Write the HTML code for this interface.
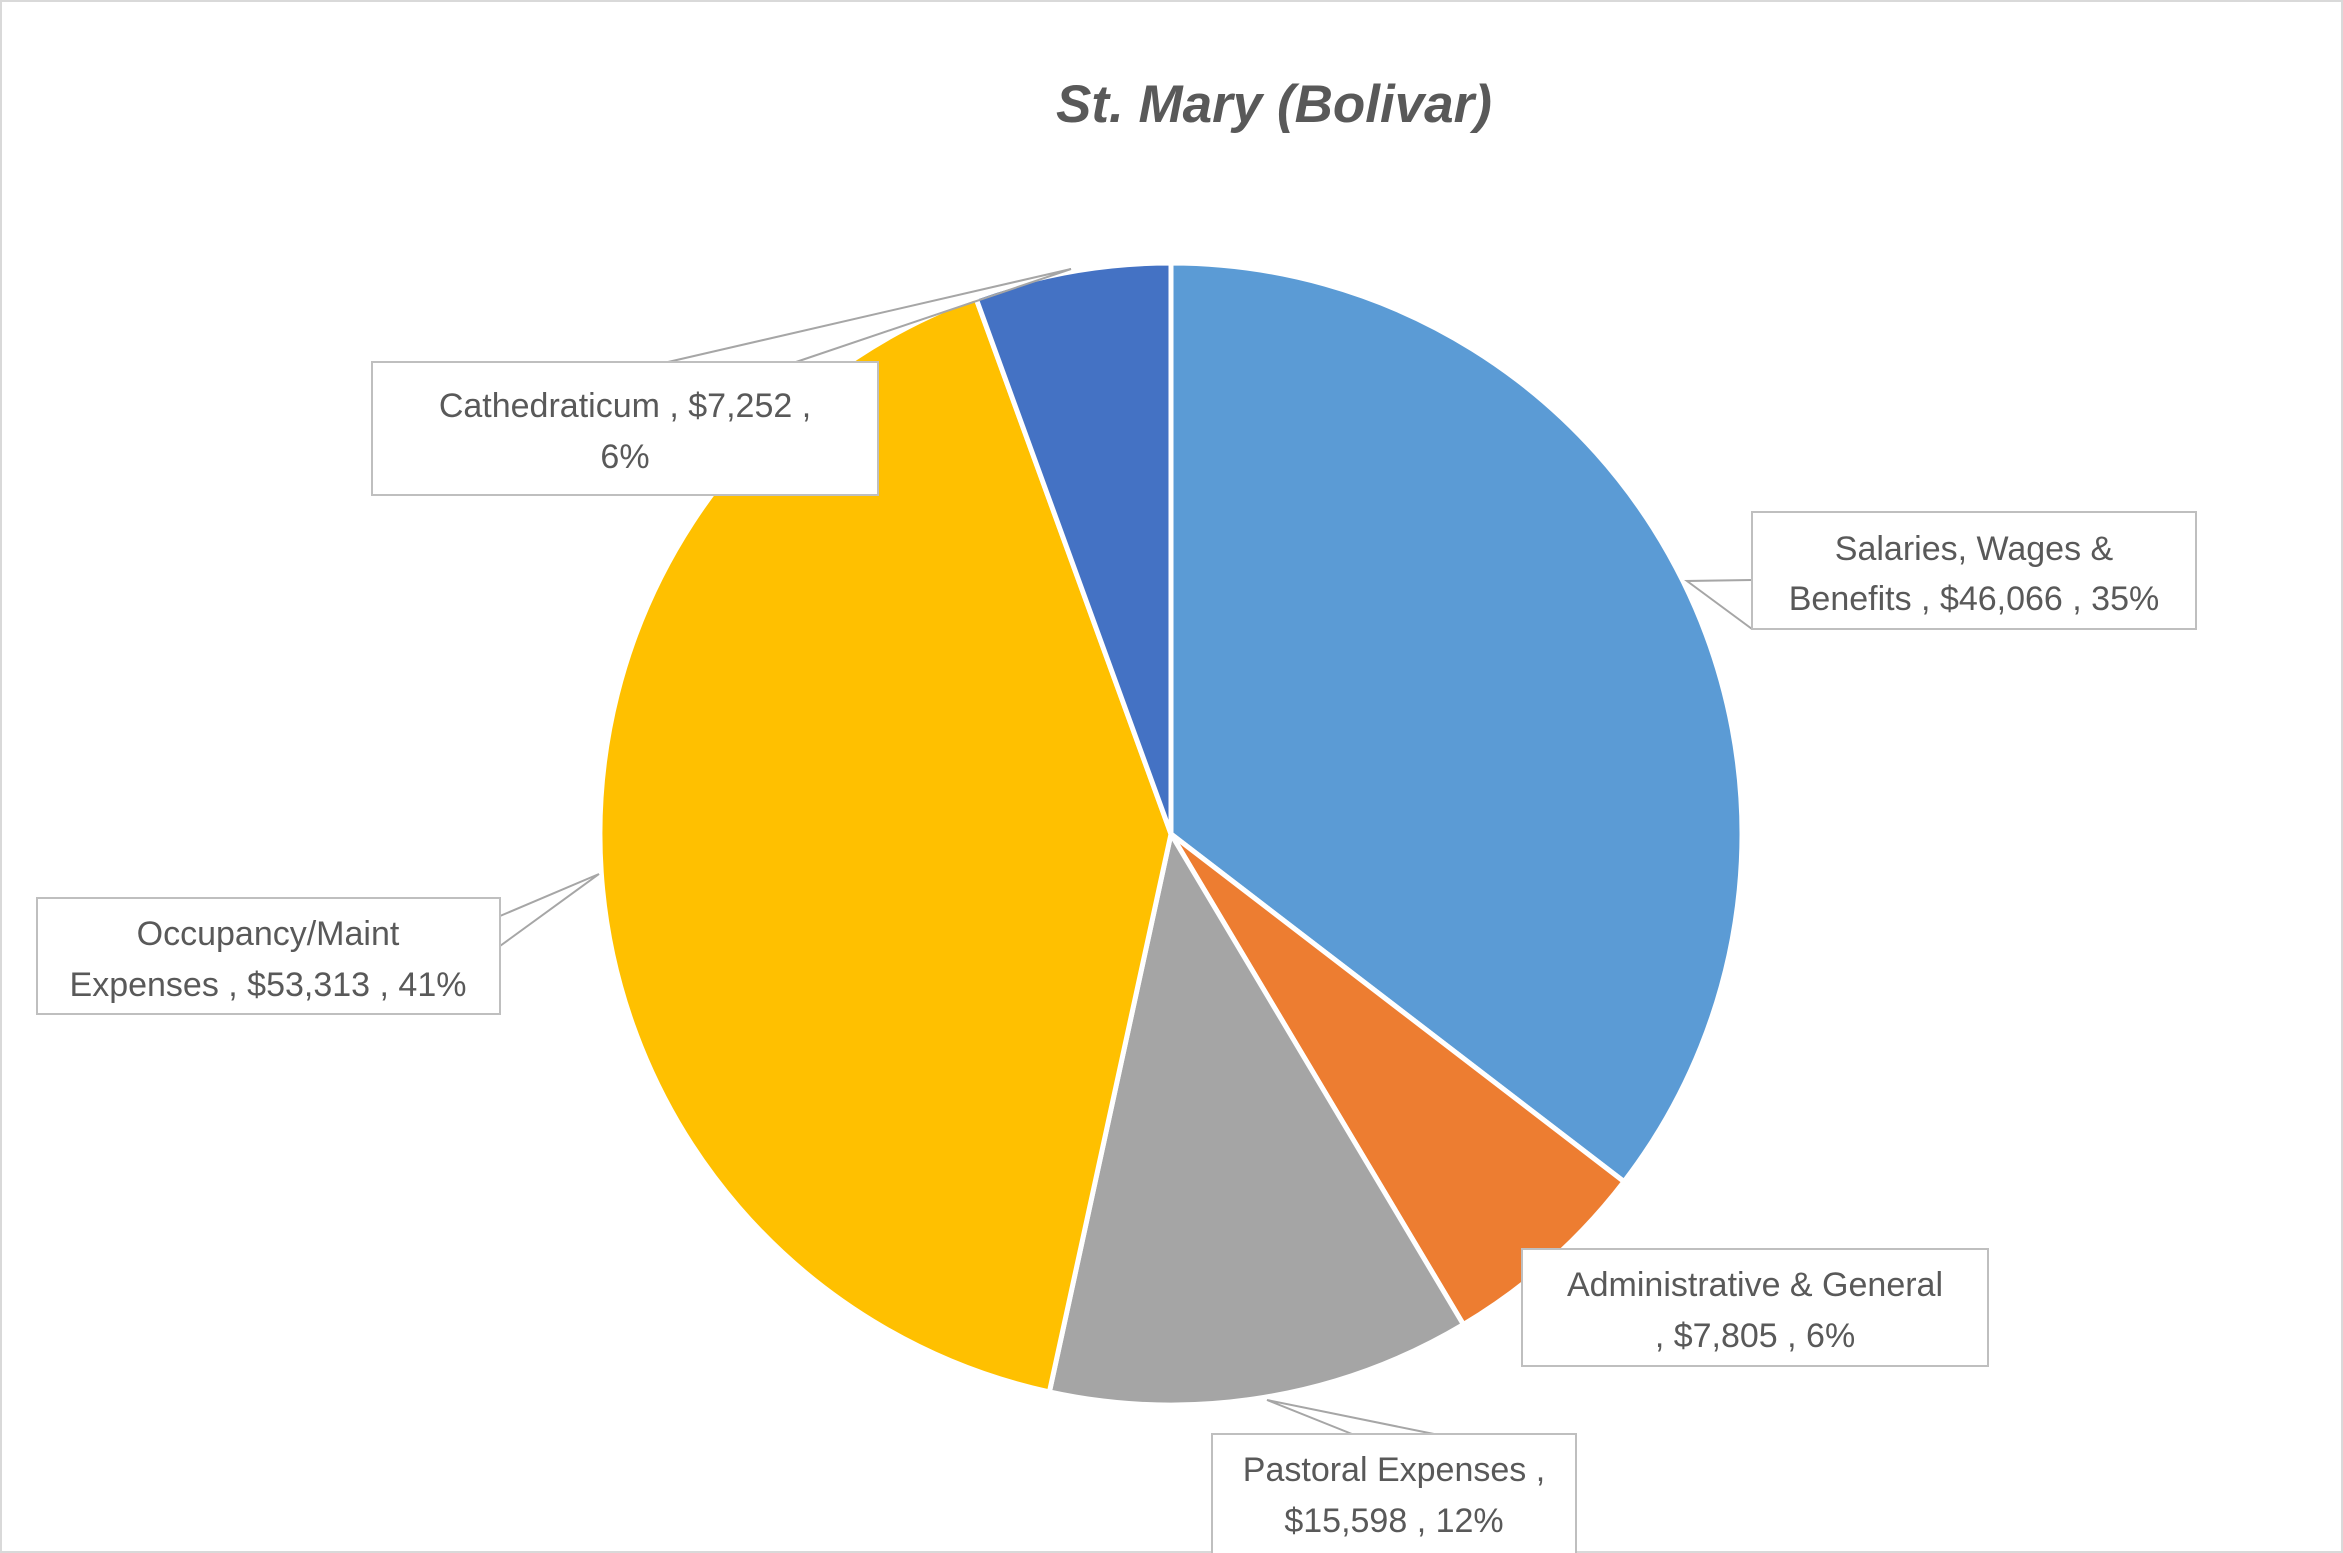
<!DOCTYPE html>
<html><head><style>
body{margin:0;background:#fff}
svg{display:block}
text{font-family:"Liberation Sans",sans-serif;fill:#595959}
</style></head><body>
<svg width="2343" height="1553" viewBox="0 0 2343 1553">
<rect x="1" y="1" width="2341" height="1551" fill="#fff" stroke="#d9d9d9" stroke-width="2"/>
<text x="1274" y="122" text-anchor="middle" font-size="53" font-weight="bold" font-style="italic">St. Mary (Bolivar)</text>
<g stroke="#fff" stroke-width="5" stroke-linejoin="round">
<path d="M1171,834 L1171,263 A571,571 0 0 1 1624,1181.6 Z" fill="#5b9bd5"/>
<path d="M1171,834 L1624,1181.6 A571,571 0 0 1 1463.4,1324.5 Z" fill="#ed7d31"/>
<path d="M1171,834 L1463.4,1324.5 A571,571 0 0 1 1049.4,1391.9 Z" fill="#a5a5a5"/>
<path d="M1171,834 L1049.4,1391.9 A571,571 0 0 1 975.7,297.4 Z" fill="#ffc000"/>
<path d="M1171,834 L975.7,297.4 A571,571 0 0 1 1171,263 Z" fill="#4472c4"/>
</g>
<g stroke="#a6a6a6" stroke-width="2" fill="none">
<polyline points="668,362 1071,269 796,362"/>
<polyline points="1752,580 1687,581 1752,629"/>
<polyline points="500,916 599,874 500,946"/>
<polyline points="1352,1434 1267,1400 1434,1434"/>
</g>
<g fill="#fff" stroke="#bfbfbf" stroke-width="2">
<rect x="372" y="362" width="506" height="133"/>
<rect x="1752" y="512" width="444" height="117"/>
<rect x="37" y="898" width="463" height="116"/>
<rect x="1522" y="1249" width="466" height="117"/>
<rect x="1212" y="1434" width="364" height="130"/>
</g>
<g font-size="34" text-anchor="middle">
<text x="625" y="417">Cathedraticum ,  $7,252 ,</text>
<text x="625" y="468">6%</text>
<text x="1974" y="560">Salaries, Wages &amp;</text>
<text x="1974" y="610">Benefits ,  $46,066 , 35%</text>
<text x="268" y="945">Occupancy/Maint</text>
<text x="268" y="996">Expenses ,  $53,313 , 41%</text>
<text x="1755" y="1296">Administrative &amp; General</text>
<text x="1755" y="1347">,  $7,805 , 6%</text>
<text x="1394" y="1481">Pastoral Expenses ,</text>
<text x="1394" y="1532">$15,598 , 12%</text>
</g>
</svg>
</body></html>
